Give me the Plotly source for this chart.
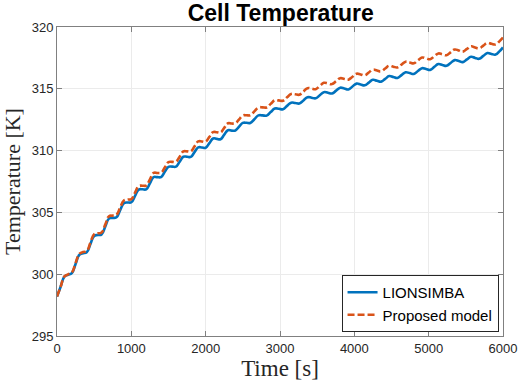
import plotly.graph_objects as go

time_s = [0, 50, 100, 150, 200, 250, 300, 350, 400, 450, 500, 550, 600, 650, 700, 750,
          800, 850, 900, 950, 1000, 1050, 1100, 1150, 1200, 1250, 1300, 1350, 1400, 1450,
          1500, 1550, 1600, 1650, 1700, 1750, 1800, 1850, 1900, 1950, 2000, 2050, 2100,
          2150, 2200, 2250, 2300, 2350, 2400, 2450, 2500, 2550, 2600,
          2655, 2710, 2765, 2820, 2875, 2930, 2985, 3040, 3095, 3150, 3205, 3260, 3315,
          3370, 3425, 3480, 3535, 3590, 3645, 3700, 3755, 3810, 3865, 3920, 3975, 4030,
          4085, 4140, 4195, 4250, 4305, 4360, 4415, 4470, 4525, 4580, 4635, 4690, 4745,
          4800, 4855, 4910, 4965, 5020, 5075, 5130, 5185, 5240, 5295, 5350, 5405, 5460,
          5515, 5570, 5625, 5680, 5735, 5790, 5845, 5900, 5955, 6000]

lionsimba = [298.2, 299.0, 299.8, 299.95, 300.09, 300.83, 301.56, 301.7, 301.77, 302.44,
             303.1, 303.17, 303.22, 303.86, 304.51, 304.55, 304.61, 305.18, 305.74, 305.8,
             305.82, 306.34, 306.85, 306.87, 306.87, 307.36, 307.86, 307.85, 307.86, 308.28,
             308.69, 308.7, 308.7, 309.1, 309.5, 309.5, 309.49, 309.88, 310.26, 310.25,
             310.23, 310.6, 310.98, 310.95, 310.92, 311.29, 311.65, 311.62, 311.63, 311.94,
             312.24, 312.25, 312.24,
             312.54, 312.85, 312.85, 312.83, 313.12, 313.4, 313.38, 313.35, 313.62, 313.88,
             313.85, 313.81, 314.06, 314.32, 314.28, 314.23, 314.48, 314.73, 314.68, 314.62,
             314.85, 315.09, 315.02, 314.95, 315.19, 315.42, 315.35, 315.28, 315.5, 315.73,
             315.65, 315.58, 315.8, 316.03, 315.95, 315.88, 316.11, 316.34, 316.27, 316.2,
             316.44, 316.67, 316.6, 316.53, 316.77, 317.0, 316.93, 316.86, 317.09, 317.32,
             317.25, 317.16, 317.38, 317.59, 317.5, 317.43, 317.66, 317.89, 317.82, 317.77,
             318.05, 318.35]

proposed = [298.2, 299.01, 299.82, 299.99, 300.14, 300.9, 301.64, 301.79, 301.87, 302.56,
            303.23, 303.31, 303.37, 304.03, 304.69, 304.74, 304.81, 305.39, 305.96, 306.04,
            306.07, 306.6, 307.13, 307.16, 307.17, 307.67, 308.19, 308.19, 308.21, 308.64,
            309.07, 309.09, 309.1, 309.51, 309.93, 309.94, 309.94, 310.34, 310.74, 310.74,
            310.73, 311.11, 311.5, 311.48, 311.46, 311.84, 312.21, 312.19, 312.21, 312.53,
            312.84, 312.86, 312.86,
            313.17, 313.49, 313.5, 313.49, 313.78, 314.07, 314.06, 314.04, 314.31, 314.58,
            314.56, 314.52, 314.78, 315.05, 315.01, 314.97, 315.23, 315.48, 315.44, 315.38,
            315.62, 315.86, 315.8, 315.74, 315.98, 316.22, 316.16, 316.09, 316.32, 316.55,
            316.48, 316.41, 316.64, 316.87, 316.79, 316.73, 316.96, 317.19, 317.13, 317.06,
            317.3, 317.53, 317.46, 317.39, 317.63, 317.86, 317.79, 317.72, 317.95, 318.18,
            318.1, 318.01, 318.23, 318.44, 318.34, 318.27, 318.49, 318.72, 318.64, 318.59,
            318.86, 319.15]

x_ticks = [0, 1000, 2000, 3000, 4000, 5000, 6000]
y_ticks = [295, 300, 305, 310, 315, 320]

fig = go.Figure()
fig.add_trace(go.Scatter(x=time_s, y=lionsimba, mode='lines', name='LIONSIMBA',
                         line=dict(color='#0072BD', width=2.6, shape='spline', smoothing=1.3)))
fig.add_trace(go.Scatter(x=time_s, y=proposed, mode='lines', name='Proposed model',
                         line=dict(color='#D95319', width=2.6, dash='7px,3px',
                                   shape='spline', smoothing=1.3)))

axis_style = dict(showline=True, linecolor='#808080', linewidth=1, mirror='ticks',
                  ticks='inside', ticklen=5, tickcolor='#808080', automargin=False,
                  showgrid=True, gridcolor='#ebebeb', gridwidth=1, zeroline=False,
                  tickfont=dict(family='Liberation Sans, Arial', size=13, color='#262626'))

fig.update_layout(
    width=519, height=385,
    margin=dict(l=57, r=16, t=27, b=49),
    paper_bgcolor='white', plot_bgcolor='white',
    title=dict(text='<b>Cell Temperature</b>', x=0.541, xanchor='center', y=0.967, yanchor='middle',
               font=dict(family='Liberation Sans, Arial', size=23, color='black')),
    xaxis=dict(range=[0, 6000], tickvals=x_ticks,
               title=dict(text='Time [s]', standoff=4,
                          font=dict(family='Liberation Serif, Times New Roman', size=23, color='#262626')),
               **axis_style),
    yaxis=dict(range=[295, 320], tickvals=y_ticks,
               title=dict(text='Temperature [K]', standoff=6,
                          font=dict(family='Liberation Serif, Times New Roman', size=22, color='#262626')),
               **axis_style),
    legend=dict(x=0.99, y=0.013, xanchor='right', yanchor='bottom',
                bgcolor='white', bordercolor='#262626', borderwidth=1,
                font=dict(family='Liberation Sans, Arial', size=15, color='black'),
                tracegroupgap=0, itemwidth=30),
    showlegend=True,
)

# the page body has a default 8px margin; drop it so the figure sits at the window corner
fig.write_html("out.html", config={'displayModeBar': False},
               post_script="document.body.style.margin='0px';")
